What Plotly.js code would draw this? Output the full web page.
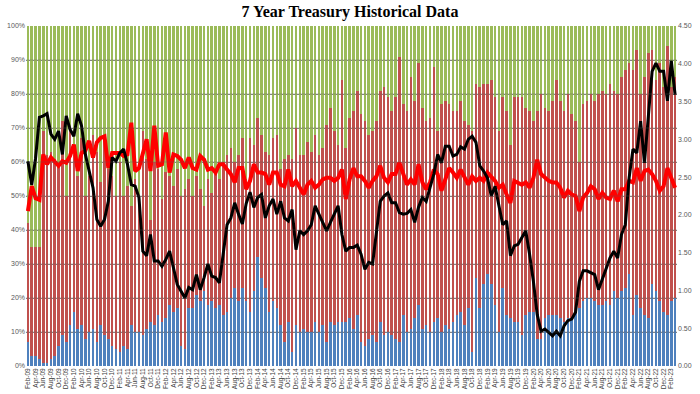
<!DOCTYPE html>
<html><head><meta charset="utf-8">
<script src="https://cdn.plot.ly/plotly-3.0.1.min.js"></script>
<style>html,body{margin:0;padding:0;background:#fff}#chart{width:700px;height:394px}</style>
</head><body><div id="chart"></div>
<script>
const months = [
'Feb-09','Mar-09','Apr-09','May-09','Jun-09','Jul-09','Aug-09','Sep-09','Oct-09','Nov-09','Dec-09',
'Jan-10','Feb-10','Mar-10','Apr-10','May-10','Jun-10','Jul-10','Aug-10','Sep-10','Oct-10','Nov-10','Dec-10',
'Jan-11','Feb-11','Mar-11','Apr-11','May-11','Jun-11','Jul-11','Aug-11','Sep-11','Oct-11','Nov-11','Dec-11',
'Jan-12','Feb-12','Mar-12','Apr-12','May-12','Jun-12','Jul-12','Aug-12','Sep-12','Oct-12','Nov-12','Dec-12',
'Jan-13','Feb-13','Mar-13','Apr-13','May-13','Jun-13','Jul-13','Aug-13','Sep-13','Oct-13','Nov-13','Dec-13',
'Jan-14','Feb-14','Mar-14','Apr-14','May-14','Jun-14','Jul-14','Aug-14','Sep-14','Oct-14','Nov-14','Dec-14',
'Jan-15','Feb-15','Mar-15','Apr-15','May-15','Jun-15','Jul-15','Aug-15','Sep-15','Oct-15','Nov-15','Dec-15',
'Jan-16','Feb-16','Mar-16','Apr-16','May-16','Jun-16','Jul-16','Aug-16','Sep-16','Oct-16','Nov-16','Dec-16',
'Jan-17','Feb-17','Mar-17','Apr-17','May-17','Jun-17','Jul-17','Aug-17','Sep-17','Oct-17','Nov-17','Dec-17',
'Jan-18','Feb-18','Mar-18','Apr-18','May-18','Jun-18','Jul-18','Aug-18','Sep-18','Oct-18','Nov-18','Dec-18',
'Jan-19','Feb-19','Mar-19','Apr-19','May-19','Jun-19','Jul-19','Aug-19','Sep-19','Oct-19','Nov-19','Dec-19',
'Jan-20','Feb-20','Mar-20','Apr-20','May-20','Jun-20','Jul-20','Aug-20','Sep-20','Oct-20','Nov-20','Dec-20',
'Jan-21','Feb-21','Mar-21','Apr-21','May-21','Jun-21','Jul-21','Aug-21','Sep-21','Oct-21','Nov-21','Dec-21',
'Jan-22','Feb-22','Mar-22','Apr-22','May-22','Jun-22','Jul-22','Aug-22','Sep-22','Oct-22','Nov-22','Dec-22',
'Jan-23','Feb-23','Mar-23'];

// share of each auction, in %
const directs = [
7,3,3,2,1,1,2,3,6,9,7,12,16,11,12,8,10,11,7,12,9,8,6,5,4,6,5,12,10,10,9,11,13,12,15,13,14,18,16,17,6,5,17,17,21,19,22,18,19,17,18,15,16,20,23,19,
23,19,16,22,32,26,23,16,19,17,12,7,13,4,12,10,11,10,10,13,10,12,7,13,12,13,13,13,14,11,15,7,6,8,9,7,13,9,10,9,8,7,15,10,11,14,18,11,12,10,13,14,10,12,11,13,
15,16,12,17,4,26,17,24,27,24,18,10,23,15,14,13,13,9,15,16,16,8,8,14,15,15,15,14,13,14,14,16,17,19,20,20,19,18,18,19,18,22,20,22,23,27,15,21,17,15,14,24,22,19,16,15,19,20];
const indirects = [
35,32,32,33,68,61,61,58,53,63,43,57,46,45,55,42,46,57,56,42,59,50,50,45,56,44,48,35,45,40,60,50,30,48,43,36,43,38,37,41,44,47,38,33,35,33,25,37,32,41,37,45,46,44,37,43,
44,36,51,43,41,42,40,46,48,51,46,54,49,57,58,52,51,56,53,55,52,52,64,63,57,52,71,51,59,64,66,67,66,60,60,65,68,73,69,66,71,84,62,65,74,64,71,65,60,63,75,55,67,66,66,62,
60,62,60,54,65,57,65,59,56,60,61,59,56,60,51,66,66,70,61,59,56,67,72,62,60,63,69,64,62,66,60,56,43,58,58,60,59,62,63,61,65,59,60,63,64,62,72,72,63,70,78,69,62,70,66,79,63,65];
const dealers = [
58,65,65,65,31,38,37,39,41,28,50,31,38,44,33,50,44,32,37,46,32,42,44,50,40,50,47,53,45,50,31,39,57,40,42,51,43,44,47,42,50,48,45,50,44,48,53,45,49,42,45,40,38,36,40,38,
33,45,33,35,27,32,37,38,33,32,42,39,38,39,30,38,38,34,37,32,38,36,29,24,31,35,16,36,27,25,19,26,28,32,31,28,19,18,21,25,21,9,23,25,15,22,11,24,28,27,12,31,23,22,23,25,
25,22,28,29,31,17,18,17,17,16,21,31,21,25,35,21,21,21,24,25,28,25,20,24,25,22,16,22,25,20,26,28,40,23,22,20,22,20,19,20,17,19,20,15,13,11,13,7,20,15,8,7,16,11,18,6,18,15];
// right axis
const highYield = [
2.71,2.40,2.75,3.29,3.31,3.34,3.07,3.00,3.11,2.80,3.31,3.13,3.04,3.34,3.18,2.80,2.58,2.36,1.94,1.85,1.94,2.18,2.76,2.71,2.82,2.87,2.67,2.40,2.38,2.23,1.52,1.46,1.74,1.39,1.39,1.32,1.41,1.52,1.30,1.08,0.99,0.90,1.04,1.01,1.21,1.01,1.17,1.35,1.19,1.17,1.10,1.48,1.87,1.96,2.16,2.01,
1.88,2.15,2.30,2.10,2.23,2.27,1.96,2.12,2.21,2.01,2.18,1.96,1.92,2.07,1.54,1.79,1.74,1.79,1.87,2.12,2.01,1.90,1.79,1.90,2.01,2.12,1.74,1.52,1.57,1.57,1.60,1.48,1.28,1.37,1.35,1.74,2.18,2.25,2.29,2.16,2.16,2.03,2.01,2.02,2.07,1.90,2.10,2.23,2.18,2.36,2.54,2.80,2.69,2.91,2.91,2.78,
2.80,2.90,2.87,3.00,3.04,2.96,2.65,2.58,2.49,2.25,2.38,2.12,1.87,1.92,1.46,1.59,1.61,1.70,1.79,1.48,1.12,0.68,0.46,0.49,0.44,0.40,0.46,0.40,0.53,0.60,0.62,0.71,1.12,1.26,1.26,1.24,1.21,1.01,1.15,1.30,1.43,1.52,1.43,1.74,1.87,2.49,2.87,2.82,3.24,2.69,3.33,3.90,4.01,3.90,3.90,3.51,4.04,3.59];
const bidToCover = [
2.05,2.38,2.22,2.20,2.80,2.67,2.76,2.71,2.65,2.71,2.69,2.78,2.93,2.58,2.82,2.85,2.98,2.76,2.96,3.02,3.04,2.62,2.82,2.82,2.82,2.78,2.80,3.22,2.58,2.62,2.82,3.00,2.58,3.18,2.65,2.67,3.09,2.56,2.80,2.78,2.73,2.62,2.76,2.62,2.60,2.78,2.73,2.60,2.62,2.56,2.67,2.67,2.60,2.54,2.43,2.62,
2.62,2.34,2.45,2.67,2.56,2.56,2.54,2.40,2.56,2.56,2.40,2.38,2.60,2.38,2.45,2.36,2.27,2.40,2.45,2.36,2.40,2.47,2.49,2.49,2.45,2.49,2.60,2.21,2.47,2.62,2.51,2.51,2.45,2.36,2.45,2.51,2.65,2.49,2.43,2.54,2.54,2.69,2.54,2.40,2.47,2.40,2.67,2.43,2.34,2.43,2.60,2.54,2.32,2.47,2.62,2.56,
2.49,2.60,2.49,2.40,2.51,2.45,2.49,2.45,2.56,2.51,2.45,2.36,2.40,2.27,2.16,2.45,2.43,2.40,2.43,2.36,2.49,2.73,2.54,2.49,2.45,2.43,2.43,2.36,2.23,2.32,2.27,2.25,2.05,2.23,2.29,2.38,2.34,2.21,2.29,2.23,2.21,2.32,2.18,2.34,2.34,2.45,2.43,2.62,2.45,2.58,2.60,2.54,2.45,2.32,2.38,2.62,2.49,2.36];

const tickLabels = months.filter((m, i) => i % 2 === 0);
const leftTicks = [0,10,20,30,40,50,60,70,80,90,100];
const rightTicks = [0,0.5,1,1.5,2,2.5,3,3.5,4,4.5];

const tickFont = {family:'Liberation Sans, Arial, sans-serif', size:7, color:'#595959'};

const traces = [
  {type:'bar', x:months, y:directs, marker:{color:'#4F81BD'}, name:'Direct', hoverinfo:'skip'},
  {type:'bar', x:months, y:indirects, marker:{color:'#C0504D'}, name:'Indirect', hoverinfo:'skip'},
  {type:'bar', x:months, y:dealers, marker:{color:'#9BBB59'}, name:'Dealer', hoverinfo:'skip'},
  {type:'scatter', mode:'lines', x:months, y:bidToCover, yaxis:'y2', line:{color:'#FF0000', width:4}, name:'Bid to Cover'},
  {type:'scatter', mode:'lines', x:months, y:highYield, yaxis:'y2', line:{color:'#000000', width:3}, name:'High Yield'}
];

// faint horizontal gridlines drawn across the bars, as in the original
const gridShapes = leftTicks.slice(1, -1).map(v => ({
  type:'line', xref:'paper', yref:'y', x0:0, x1:1, y0:v, y1:v,
  line:{color:'rgba(90,90,90,0.35)', width:1}, layer:'above'
}));

const layout = {
  width:700, height:394,
  margin:{l:26, r:23, t:26, b:28},
  barmode:'stack', bargap:0.32,
  showlegend:false,
  paper_bgcolor:'#ffffff', plot_bgcolor:'#ffffff',
  title:{text:'<b>7 Year Treasury Historical Data</b>', font:{family:'Liberation Serif, Times New Roman, serif', size:16, color:'#000'}, x:0.5, xanchor:'center', y:0.97, yanchor:'middle'},
  xaxis:{type:'category', tickmode:'array', tickvals:tickLabels, ticktext:tickLabels, tickangle:-90,
         tickfont:{family:'Liberation Sans, Arial, sans-serif', size:6.5, color:'#404040'}, showgrid:false, ticks:'', range:[-0.5, months.length-0.5], automargin:false, showline:false},
  yaxis:{range:[0,100], tickvals:leftTicks, ticktext:leftTicks.map(v=>v+'%'), tickfont:tickFont, showgrid:true, gridcolor:'#8c8c8c', gridwidth:1, zeroline:false, ticks:'', automargin:false},
  yaxis2:{overlaying:'y', side:'right', range:[0,4.5], tickvals:rightTicks, ticktext:rightTicks.map(v=>v.toFixed(2)), tickfont:tickFont, showgrid:false, zeroline:false, ticks:'', automargin:false},
  shapes: gridShapes
};

Plotly.newPlot('chart', traces, layout, {staticPlot:true});
</script>
</body></html>
